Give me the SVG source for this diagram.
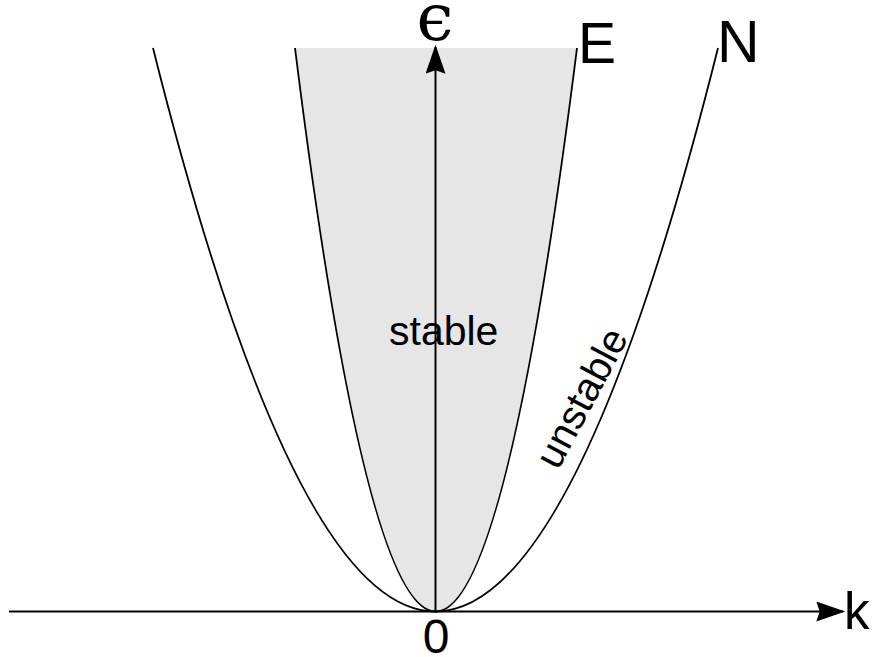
<svg xmlns="http://www.w3.org/2000/svg" width="872" height="657" viewBox="0 0 872 657">
<style>
.curve{fill:none;stroke:#000;stroke-width:1.8}
.axis{fill:none;stroke:#000;stroke-width:2}
.lbl{font-family:"Liberation Sans",Arial,sans-serif;fill:#000}
.greek{font-family:"DejaVu Serif",serif;fill:#000}
</style>
<defs>
<marker id="arr" markerUnits="userSpaceOnUse" markerWidth="30" markerHeight="20" viewBox="0 0 26 18" refX="24" refY="9" orient="auto">
<path d="M0,0 L26,9 L0,18 L3,9 Z" fill="#000"/>
</marker>
</defs>
<rect width="872" height="657" fill="#fff"/>
<g id="stable-region">
<path d="M295,48 Q435.5,1175 577,48 Z" fill="#e6e6e6"/>
</g>
<g id="connectors">
<path id="curve-N" class="curve" d="M153,48 Q435.5,1175 718,48"/>
<path id="curve-E" class="curve" d="M295,48 Q435.5,1175 577,48"/>
<line id="k-axis" class="axis" x1="9" y1="611.5" x2="843" y2="611.5" marker-end="url(#arr)"/>
<line id="eps-axis" class="axis" x1="435.5" y1="611.5" x2="435.5" y2="47" marker-end="url(#arr)"/>
</g>
<g id="labels">
<text class="greek" x="435" y="40" font-size="66" text-anchor="middle">ϵ</text>
<text class="lbl" x="578" y="63" font-size="57">E</text>
<text class="lbl" x="717" y="62" font-size="59">N</text>
<text class="lbl" x="436" y="653" font-size="48" text-anchor="middle">0</text>
<text class="lbl" x="844" y="629" font-size="51">k</text>
<text class="lbl" x="389" y="345" font-size="41">stable</text>
<text class="lbl" x="0" y="0" font-size="40" transform="translate(558,471) rotate(-62)">unstable</text>
</g>
</svg>
